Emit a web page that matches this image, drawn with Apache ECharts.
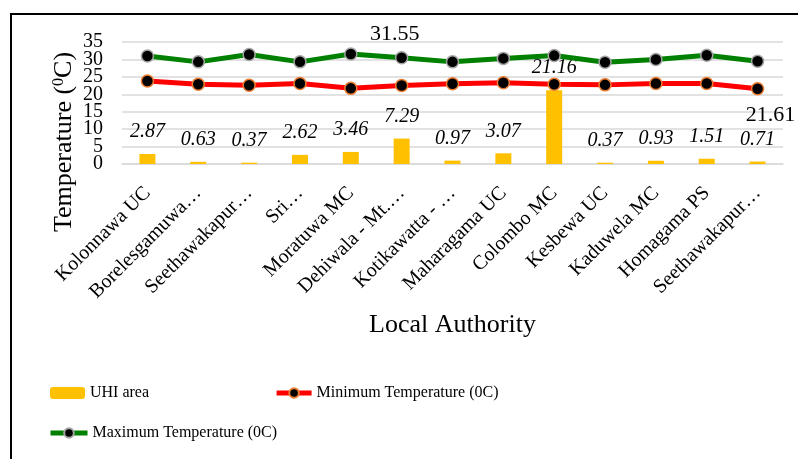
<!DOCTYPE html>
<html>
<head>
<meta charset="utf-8">
<script src="https://cdn.jsdelivr.net/npm/echarts@6/dist/echarts.min.js"></script>
<style>html,body{margin:0;padding:0;background:#fff;}#c{width:798px;height:459px;}</style>
</head>
<body>
<div id="c"></div>
<script>
const categories = ['Kolonnawa UC','Borelesgamuwa…','Seethawakapur…','Sri…','Moratuwa MC','Dehiwala - Mt.…','Kotikawatta - …','Maharagama UC','Colombo MC','Kesbewa UC','Kaduwela MC','Homagama PS','Seethawakapur…'];
const uhiArea = [2.87,0.63,0.37,2.62,3.46,7.29,0.97,3.07,21.16,0.37,0.93,1.51,0.71];
const minTemp = [23.8,22.9,22.6,23.1,21.7,22.5,23.0,23.3,22.9,22.7,23.1,23.1,21.61];
const maxTemp = [31.0,29.3,31.4,29.3,31.55,30.5,29.3,30.3,31.1,29.2,30.0,31.2,29.5];
const yMin = 0, yMax = 35, yInterval = 5;
const seriesNames = ['UHI area','Minimum Temperature (0C)','Maximum Temperature (0C)'];

const FONT = "'Liberation Serif', 'Times New Roman', 'DejaVu Serif', serif";
const maxIdx = maxTemp.indexOf(Math.max(...maxTemp));
const minIdx = minTemp.indexOf(Math.min(...minTemp));

const maxData = maxTemp.map((v,i)=> i===maxIdx ? {value:v,label:{show:true,position:'top',distance:2,offset:[44,0],fontSize:22,fontFamily:FONT,color:'#000'}} : v);
const minData = minTemp.map((v,i)=> i===minIdx ? {value:v,label:{show:true,position:'bottom',distance:9,offset:[13,0],fontSize:22,fontFamily:FONT,color:'#000'}} : v);

const yLabelStyle = {margin:19,fontSize:20,lineHeight:8,padding:[5,0,0,0],fontFamily:FONT,color:'#000',hideOverlap:false};

const chart = echarts.init(document.getElementById('c'), null, {renderer:'canvas'});
chart.setOption({
  animation:false,
  backgroundColor:'#fff',
  textStyle:{fontFamily:FONT},
  grid:{left:122,right:15,top:42,bottom:295,containLabel:false},
  graphic:[
    {type:'rect',shape:{x:11,y:14,width:900,height:600},style:{fill:'none',stroke:'#000',lineWidth:2},silent:true,z:100},
    {type:'text',x:64,y:142,rotation:Math.PI/2,style:{
      text:'{n|Temperature (}{s|0}{n|C)}',
      rich:{n:{fontSize:26,fontFamily:FONT,fill:'#000'},s:{fontSize:16,fontFamily:FONT,fill:'#000',verticalAlign:'top',padding:[0,0,9,0]}},
      align:'center',verticalAlign:'middle',fill:'#000'}}
  ],
  legend:[
    {data:[{name:seriesNames[0]},{name:seriesNames[1],lineStyle:{width:5}}],left:50,top:385,itemWidth:35,itemHeight:12,itemGap:125,
     textStyle:{fontSize:16,fontFamily:FONT,color:'#000'},padding:0},
    {data:[{name:seriesNames[2],lineStyle:{width:5}}],left:48,top:425,itemWidth:37,itemHeight:12,
     textStyle:{fontSize:16,fontFamily:FONT,color:'#000'},padding:0}
  ],
  xAxis:{
    type:'category',data:categories,
    name:'Local Authority',nameLocation:'middle',nameGap:148,
    nameTextStyle:{fontSize:26,fontFamily:FONT,color:'#000'},
    axisLine:{lineStyle:{color:'#D9D9D9',width:1.5}},
    axisTick:{show:false},
    axisLabel:{rotate:45,interval:0,margin:26,fontSize:20,fontFamily:FONT,color:'#000',hideOverlap:false}
  },
  yAxis:[
    {type:'value',min:yMin,max:yMax,interval:yInterval,position:'left',
     axisLine:{show:false},axisTick:{show:false},
     splitLine:{lineStyle:{color:'#D9D9D9',width:1.5}},
     axisLabel:Object.assign({showMinLabel:false,showMaxLabel:false},yLabelStyle)},
    {type:'value',min:yMin,max:yMax,interval:yInterval,position:'left',
     axisLine:{show:false},axisTick:{show:false},splitLine:{show:false},
     axisLabel:Object.assign({showMinLabel:true,showMaxLabel:true,
       formatter:(v)=> (v===yMin||v===yMax) ? String(v) : ''},yLabelStyle)}
  ],
  series:[
    {name:seriesNames[0],type:'bar',data:uhiArea,barWidth:16,
     itemStyle:{color:'#FFC000'},
     label:{show:true,position:'top',distance:12,fontSize:20,fontStyle:'italic',fontFamily:FONT,color:'#000'}},
    {name:seriesNames[1],type:'line',data:minData,symbol:'circle',symbolSize:12,
     lineStyle:{color:'#FF0000',width:5},
     itemStyle:{color:'#000',borderColor:'#ED7D31',borderWidth:1.5},
     color:'#FF0000'},
    {name:seriesNames[2],type:'line',data:maxData,symbol:'circle',symbolSize:12,
     lineStyle:{color:'#008000',width:5},
     itemStyle:{color:'#000',borderColor:'#A5A5A5',borderWidth:1.5},
     color:'#008000'}
  ]
});
</script>
</body>
</html>
